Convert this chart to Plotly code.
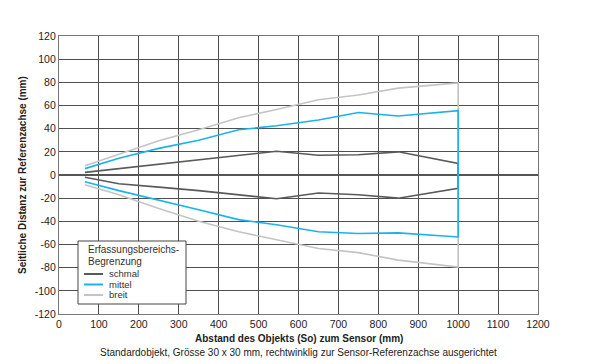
import plotly.graph_objects as go

# Data
distance = [65, 150, 250, 350, 450, 545, 650, 750, 850, 1000]
schmal_upper = [2.3, 5.5, 9.3, 12.8, 16.8, 20.5, 17, 17.5, 20, 10]
schmal_lower = [-2, -7.5, -10.5, -13.5, -17, -20.5, -15.5, -17, -20, -11.5]
mittel_upper = [5.5, 14.5, 23, 30, 39, 42.5, 47.5, 54, 51, 55.5]
mittel_lower = [-5.8, -13.5, -22, -30, -38.5, -43, -49, -50.5, -50, -53.5]
breit_upper = [8, 18, 29.5, 39, 49.5, 56.5, 65, 69, 75, 79.5]
breit_lower = [-8.5, -17, -29, -40, -49, -56, -63.5, -67, -73.5, -79.5]

series_names = ["schmal", "mittel", "breit"]
colors = {"schmal": "#5a5a5a", "mittel": "#1ab2ee", "breit": "#c4c4c4"}
uppers = {"schmal": schmal_upper, "mittel": mittel_upper, "breit": breit_upper}
lowers = {"schmal": schmal_lower, "mittel": mittel_lower, "breit": breit_lower}

x_ticks = list(range(0, 1201, 100))
y_ticks = list(range(-120, 121, 20))

legend_title = ["Erfassungsbereichs-", "Begrenzung"]
x_title = "Abstand des Objekts (So) zum Sensor (mm)"
x_subtitle = "Standardobjekt, Grösse 30 x 30 mm, rechtwinklig zur Sensor-Referenzachse ausgerichtet"
y_title = "Seitliche Distanz zur Referenzachse (mm)"

FONT = "Liberation Sans, Arial, sans-serif"
W, H = 600, 364
ML, MR, MT, MB = 59, 62, 36, 50
PW, PH = W - ML - MR, H - MT - MB


def px(x):
    return (x - ML) / PW


def py(y):
    return (H - MB - y) / PH


fig = go.Figure()
for name in ["breit", "schmal", "mittel"]:
    xs = distance + distance[::-1]
    ys = uppers[name] + lowers[name][::-1]
    fig.add_trace(go.Scatter(
        x=xs, y=ys, mode="lines", name=name,
        line=dict(color=colors[name], width=1.6),
        showlegend=False, hoverinfo="x+y+name",
    ))

fig.update_layout(
    width=W, height=H,
    margin=dict(l=ML, r=MR, t=MT, b=MB),
    plot_bgcolor="white", paper_bgcolor="white",
    font=dict(family=FONT, size=10, color="#222"),
    showlegend=False,
)

fig.update_xaxes(
    range=[0, 1200], tickvals=x_ticks, ticktext=[str(v) for v in x_ticks],
    showgrid=True, gridcolor="#4f4f4f", gridwidth=1.2,
    showline=True, linecolor="#777", linewidth=1.2, mirror=True,
    zeroline=False, ticks="", tickfont=dict(size=10.5, color="#222"),
    automargin=False,
)
fig.update_yaxes(
    range=[-120, 120], tickvals=y_ticks, ticktext=[str(v) for v in y_ticks],
    showgrid=True, gridcolor="#4f4f4f", gridwidth=1.2,
    showline=True, linecolor="#777", linewidth=1.2, mirror=True,
    zeroline=True, zerolinecolor="#555", zerolinewidth=2,
    ticks="", tickfont=dict(size=10.5, color="#222"),
    automargin=False,
)

# axis titles
fig.add_annotation(
    text="<b>" + y_title + "</b>", textangle=-90,
    xref="paper", yref="paper", x=px(22), y=0.5, xanchor="center", yanchor="middle",
    showarrow=False, font=dict(size=10, color="#222"),
)
fig.add_annotation(
    text="<b>" + x_title + "</b>",
    xref="paper", yref="paper", x=0.5, y=py(338), yanchor="middle",
    showarrow=False, font=dict(size=10, color="#222"),
)
fig.add_annotation(
    text=x_subtitle,
    xref="paper", yref="paper", x=0.5, y=py(352), yanchor="middle",
    showarrow=False, font=dict(size=10, color="#222"),
)

# custom legend box
fig.add_shape(
    type="rect", xref="paper", yref="paper",
    x0=px(78), x1=px(186), y0=py(304), y1=py(241),
    line=dict(color="#444", width=1), fillcolor="white", layer="above",
)
for i, t in enumerate(legend_title):
    fig.add_annotation(
        text=t, xref="paper", yref="paper", x=px(87), y=py(249 + 12 * i),
        xanchor="left", yanchor="middle", showarrow=False, borderpad=0,
        font=dict(size=10, color="#333"),
    )
for i, name in enumerate(series_names):
    yy = py(274 + 10.5 * i)
    fig.add_shape(
        type="line", xref="paper", yref="paper",
        x0=px(84), x1=px(103), y0=yy, y1=yy,
        line=dict(color=colors[name], width=2), layer="above",
    )
    fig.add_annotation(
        text=name, xref="paper", yref="paper", x=px(108), y=py(273.5 + 10.5 * i),
        xanchor="left", yanchor="middle", showarrow=False, borderpad=0,
        font=dict(size=9.5, color="#333"),
    )

fig.write_html(
    "out.html",
    config={"displayModeBar": False},
    post_script="document.body.style.margin='0';document.body.style.padding='0';",
)
